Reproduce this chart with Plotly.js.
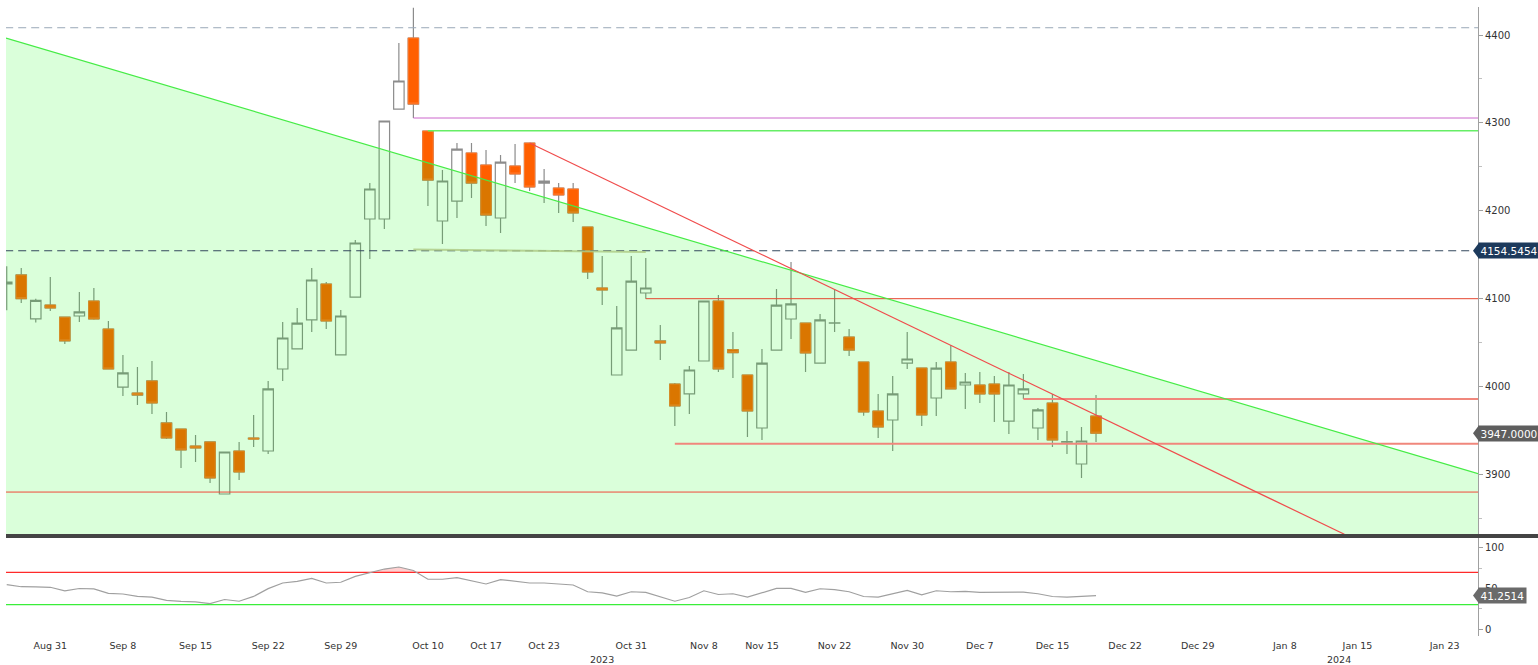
<!DOCTYPE html>
<html>
<head>
<meta charset="utf-8">
<script src="https://cdn.plot.ly/plotly-3.0.1.min.js"></script>
<style>
html,body{margin:0;padding:0;background:#ffffff;}
#chart{width:1538px;height:665px;}
</style>
</head>
<body>
<div id="chart"></div>
<script>
// ---------------- DATA ----------------
const openP  = [4116.7,4127,4077,4092.8,4079,4080.3,4097.4,4065.5,3999.5,3992.7,4006.4,3958.6,3951.7,3932.4,3937,3877.8,3926.7,3941.5,3926.7,4020,
                4042.8,4075.8,4116.7,4036,4101.9,4190.7,4190.7,4315.8,4396.6,4290.8,4188.4,4211.1,4265.8,4252.1,4191.8,4251,4277.1,4231.6,4225.9,4224.8,
                4181.6,4112.2,4013.2,4041.6,4106.5,4051.9,4002.9,3991.6,4029.1,4097.4,4042,4013.2,3952.9,4041.6,4076.9,4072.3,4026.8,4072.3,4056.4,4028,
                3972.2,3962,4026.8,4021.1,3987,4028,4001.8,4001.8,4002.9,3960.8,3991.6,3952.9,3981.3,3936.8,3911.9,3966.5];
const highP  = [4137,4135,4100,4124.7,4079.5,4107.6,4112.2,4074.6,4036,4022.3,4029.1,3971.1,3952,3944.9,3937.5,3925.6,3937,3967.7,4006.4,4073.5,
                4089.4,4134.9,4119,4087.1,4166.8,4231.6,4302.2,4390.9,4431,4291,4246.4,4277.1,4277.1,4269.2,4263.5,4276,4277.5,4247.5,4231.6,4231.6,
                4182,4148.6,4091.7,4148.6,4146.3,4070.1,4004.1,4023.4,4097.4,4104.2,4062.1,4013.5,4042.8,4111,4141.7,4072.5,4082.6,4111,4065.5,4028.3,
                3991.6,4012,4062.1,4021.4,4028,4047.3,4015.5,4016.6,4012,4016.6,4014.3,3975.6,3991.6,3949.5,3954,3990.4];
const lowP   = [4087,4095,4073,4086,4048.5,4073.5,4076,4020,3989.3,3979.1,3968.8,3940.4,3907.4,3914.2,3890.3,3877.8,3893.7,3931.3,3923.3,4006.4,
                4042.8,4062.1,4065.5,4036,4101.9,4145.2,4179.3,4315.8,4305.6,4205.5,4162.2,4191.8,4214.6,4182.7,4174.7,4231.6,4222.5,4208.9,4197.5,4187.3,
                4122.4,4092.8,4013.2,4041.6,4100,4030.2,3955.2,3968.8,4029.1,4016.6,4009.8,3942.6,3939.2,4041.6,4054.1,4016.6,4026.8,4062.1,4034.8,3966.9,
                3941.5,3926.7,4020,3955.2,3966.5,3997.3,3974.5,3981.3,3959.7,3946.1,3986,3939.2,3931.3,3923.3,3896,3937];
const closeP = [4119,4100,4098,4089.4,4052,4084.9,4076.9,4020,4015.5,3990.4,3981.3,3941.5,3927.9,3930.1,3896,3925.6,3902.8,3940.4,3997.3,4055.3,
                4072.3,4121.3,4074.6,4080.3,4163.4,4224.8,4302.2,4347.7,4321.5,4235,4233.9,4270.3,4231.6,4195.2,4255.5,4241.9,4227.1,4233.9,4218,4197.5,
                4130.4,4109.9,4066.7,4120.1,4112.2,4049.6,3977.9,4018.9,4097.4,4020,4038.6,3972.2,4026.8,4092.8,4094,4038.2,4075.8,4072.6,4041.6,3971.1,
                3954,3991.6,4031.4,3967.7,4021.1,3997.3,4005.2,3991.6,3991.6,4001.8,3997.3,3973.4,3939.2,3937.3,3938.1,3947];
const rsi    = [54.7,52.2,52,51.5,47,50,49.5,44,43.2,40.2,39.3,35.4,34,33.5,31.4,36.4,34.3,40.2,49.8,56.8,
                58.9,62.4,56.8,57.7,65,69.5,74,76.5,72.2,61.4,61.4,63.5,59.8,55.6,61,58.5,56.8,56.8,55.9,54.3,
                46,44.7,40.7,46,45.2,40.1,34.3,38.9,47.2,42.6,43.5,39.3,44.7,50.1,50.1,45.2,49.7,48.5,46,40.1,
                39.3,43.8,47.7,42.2,47.2,46,46.4,45.2,45.2,45.6,45.6,43.5,40.1,39.3,40.1,41.25];

// session positions (trading-day slots) and axis labels
const session  = openP.map((_, i) => i);
const tickIdx  = [3,8,13,18,23,29,33,37,43,48,52,57,62,67,72,77,82,88,93,99];
const tickText = ['Aug 31','Sep 8','Sep 15','Sep 22','Sep 29','Oct 10','Oct 17','Oct 23','Oct 31','Nov 8',
                  'Nov 15','Nov 22','Nov 30','Dec 7','Dec 15','Dec 22','Dec 29','Jan 8','Jan 15','Jan 23'];
const yearLabels = ['2023','2024'];
const yearIdx    = [41,91.7];

// drawn studies (trendlines and levels)
const greenTrendX = [-0.05, 101.3];
const greenTrendY = [4396.6, 3901];
const redTrendX   = [36, 92.1];
const redTrendY   = [4277.1, 3832];
const levelValue  = [4408.3, 4154.5454, 4305.6, 4291, 4100, 3986, 3935, 3880];
const levelStart  = [-1, -1, 28, 29, 44, 70, 46, -1];
const faintLevelX = [28, 44];
const faintLevelY = [4156, 4153];
const rsiUpper = 70, rsiLower = 30;
const lastPrice = 3947.0, refPrice = 4154.5454, lastRsi = 41.2514;

// ---------------- PLOT ----------------
const xRange = [-0.05, 101.3];
const xEnd = 103;
const levelColor = ['#9aa8b8','#33475c','#cc66cc','#66ee66','#e5452f','#f0877c','#f0877c','#f04a3a'];
const levelWidth = [1,1,1,1.5,1,2,2,1];
const levelDash  = ['8px,5px','8px,5px','solid','solid','solid','solid','solid','solid'];

const traces = [];
// wicks + bodies (gray borders)
traces.push({
  type:'candlestick', x:session, open:openP, high:highP, low:lowP, close:closeP,
  xaxis:'x', yaxis:'y', hoverinfo:'skip', whiskerwidth:0,
  increasing:{line:{color:'#8c8c8c', width:1.2}, fillcolor:'#ffffff'},
  decreasing:{line:{color:'#8c8c8c', width:1.2}, fillcolor:'#ff5f00'}
});
// orange bodies with orange edge
traces.push({
  type:'candlestick', x:session, open:openP, close:closeP,
  high:openP.map((o,i)=>Math.max(o,closeP[i])), low:openP.map((o,i)=>Math.min(o,closeP[i])),
  xaxis:'x', yaxis:'y', hoverinfo:'skip', whiskerwidth:0,
  increasing:{line:{color:'rgba(0,0,0,0)', width:0}, fillcolor:'rgba(0,0,0,0)'},
  decreasing:{line:{color:'#ff7a2e', width:1}, fillcolor:'#ff5f00'}
});
// green shaded region under the falling trendline (drawn over the candles)
traces.push({
  type:'scatter', mode:'lines', xaxis:'x', yaxis:'y', hoverinfo:'skip',
  x:[greenTrendX[0], greenTrendX[1], greenTrendX[1], greenTrendX[0]],
  y:[greenTrendY[0], greenTrendY[1], 3700, 3700],
  fill:'toself', fillcolor:'rgba(0,255,0,0.145)', line:{width:0}
});
// horizontal levels
levelValue.forEach((v,k)=>{
  traces.push({type:'scatter', mode:'lines', xaxis:'x', yaxis:'y', hoverinfo:'skip',
    x:[levelStart[k], xEnd], y:[v, v],
    line:{color:levelColor[k], width:levelWidth[k], dash:levelDash[k]}});
});
traces.push({type:'scatter', mode:'lines', xaxis:'x', yaxis:'y', hoverinfo:'skip',
  x:faintLevelX, y:faintLevelY, line:{color:'rgba(175,205,135,0.85)', width:2}});
// trendlines
traces.push({type:'scatter', mode:'lines', xaxis:'x', yaxis:'y', hoverinfo:'skip',
  x:greenTrendX, y:greenTrendY, line:{color:'#46ec46', width:1.2}});
traces.push({type:'scatter', mode:'lines', xaxis:'x', yaxis:'y', hoverinfo:'skip',
  x:redTrendX, y:redTrendY, line:{color:'#f04c4c', width:1.2}});

// RSI panel
const obX=[], obY=[];
for (let i=0;i<rsi.length;i++){
  const a=rsi[i];
  if (a>rsiUpper){ obX.push(i); obY.push(a); }
  if (i<rsi.length-1){
    const b=rsi[i+1];
    if ((a-rsiUpper)*(b-rsiUpper)<0){
      obX.push(i+(rsiUpper-a)/(b-a)); obY.push(rsiUpper);
      if (a>rsiUpper){ obX.push(null); obY.push(null); }
    }
  }
}
traces.push({type:'scatter', mode:'lines', xaxis:'x2', yaxis:'y2', hoverinfo:'skip',
  x:obX, y:obY, fill:'toself', fillcolor:'rgba(255,120,120,0.35)', line:{width:0}});
traces.push({type:'scatter', mode:'lines', xaxis:'x2', yaxis:'y2', hoverinfo:'skip',
  x:[-1, xEnd], y:[rsiUpper, rsiUpper], line:{color:'#ff2a2a', width:1.2}});
traces.push({type:'scatter', mode:'lines', xaxis:'x2', yaxis:'y2', hoverinfo:'skip',
  x:[-1, xEnd], y:[rsiLower, rsiLower], line:{color:'#3aee3a', width:1.2}});
traces.push({type:'scatter', mode:'lines', xaxis:'x2', yaxis:'y2', hoverinfo:'skip',
  x:session, y:rsi, line:{color:'#a0a0a0', width:1.2}});

const tfont = {family:'DejaVu Sans, sans-serif', size:10, color:'#333333'};
function boxLabel(yref, yv, txt, bg){
  return {xref:'paper', x:1, xanchor:'left', xshift:0, yref:yref, y:yv, yanchor:'middle',
    text:txt, showarrow:false, bgcolor:bg, borderpad:1.5,
    font:{family:'DejaVu Sans, sans-serif', size:10.5, color:'#ffffff'}};
}
function pointer(yref, yv, bg){
  return {type:'path', xref:'paper', xsizemode:'pixel', xanchor:1, yref:yref, ysizemode:'pixel', yanchor:yv,
    path:'M -5 0 L 1 8 L 1 -8 Z', fillcolor:bg, line:{width:0}, layer:'above'};
}

const layout = {
  width:1538, height:665,
  margin:{l:6, r:60, t:7, b:29},
  paper_bgcolor:'#ffffff', plot_bgcolor:'#ffffff',
  showlegend:false, hovermode:false,
  boxgap:0.28, boxgroupgap:0,
  xaxis:{domain:[0,1], range:xRange, anchor:'y', showticklabels:false, showgrid:false, zeroline:false,
         showline:false, ticks:'', rangeslider:{visible:false}, fixedrange:true},
  xaxis2:{domain:[0,1], range:xRange, anchor:'y2', matches:'x', tickmode:'array', tickvals:tickIdx, ticktext:tickText,
          showgrid:false, zeroline:false, showline:false, ticks:'', ticklabelstandoff:2,
          tickfont:{family:'DejaVu Sans, sans-serif', size:9.5, color:'#333333'}},
  yaxis:{domain:[0.1622,1], range:[3832.3,4431.9], side:'right', anchor:'x',
         tickmode:'array', tickvals:[3900,4000,4100,4200,4300,4400],
         showgrid:false, zeroline:false, showline:true, linecolor:'#a0a0a0', linewidth:1,
         ticks:'outside', ticklen:4, tickcolor:'#a0a0a0',
         minor:{dtick:50, tick0:0, ticks:'outside', ticklen:3, tickcolor:'#c0c0c0', showgrid:false},
         tickfont:tfont},
  yaxis2:{domain:[0,0.1558], range:[-8.6,112.3], side:'right', anchor:'x2',
          tickmode:'array', tickvals:[0,50,100],
          showgrid:false, zeroline:false, showline:true, linecolor:'#a0a0a0', linewidth:1,
          ticks:'outside', ticklen:4, tickcolor:'#a0a0a0',
          minor:{dtick:25, tick0:0, ticks:'outside', ticklen:3, tickcolor:'#c0c0c0', showgrid:false},
          tickfont:tfont},
  shapes:[
    {type:'line', xref:'paper', yref:'paper', x0:0, x1:1.045, y0:0.159, y1:0.159,
     line:{color:'#444444', width:4}, layer:'above'},
    pointer('y', refPrice, '#1d3a5c'),
    pointer('y', lastPrice, '#5e5e5e'),
    pointer('y2', lastRsi, '#6a6a6a')
  ],
  annotations:[
    boxLabel('y', refPrice, refPrice.toFixed(4), '#1d3a5c'),
    boxLabel('y', lastPrice, lastPrice.toFixed(4), '#5e5e5e'),
    boxLabel('y2', lastRsi, lastRsi.toFixed(4), '#6a6a6a'),
    ...yearLabels.map((t,k)=>({xref:'x2', x:yearIdx[k], yref:'paper', y:-0.038, yanchor:'middle',
        text:t, showarrow:false, font:{family:'DejaVu Sans, sans-serif', size:9.5, color:'#333333'}}))
  ]
};

Plotly.newPlot('chart', traces, layout, {staticPlot:true, displayModeBar:false});
</script>
</body>
</html>
